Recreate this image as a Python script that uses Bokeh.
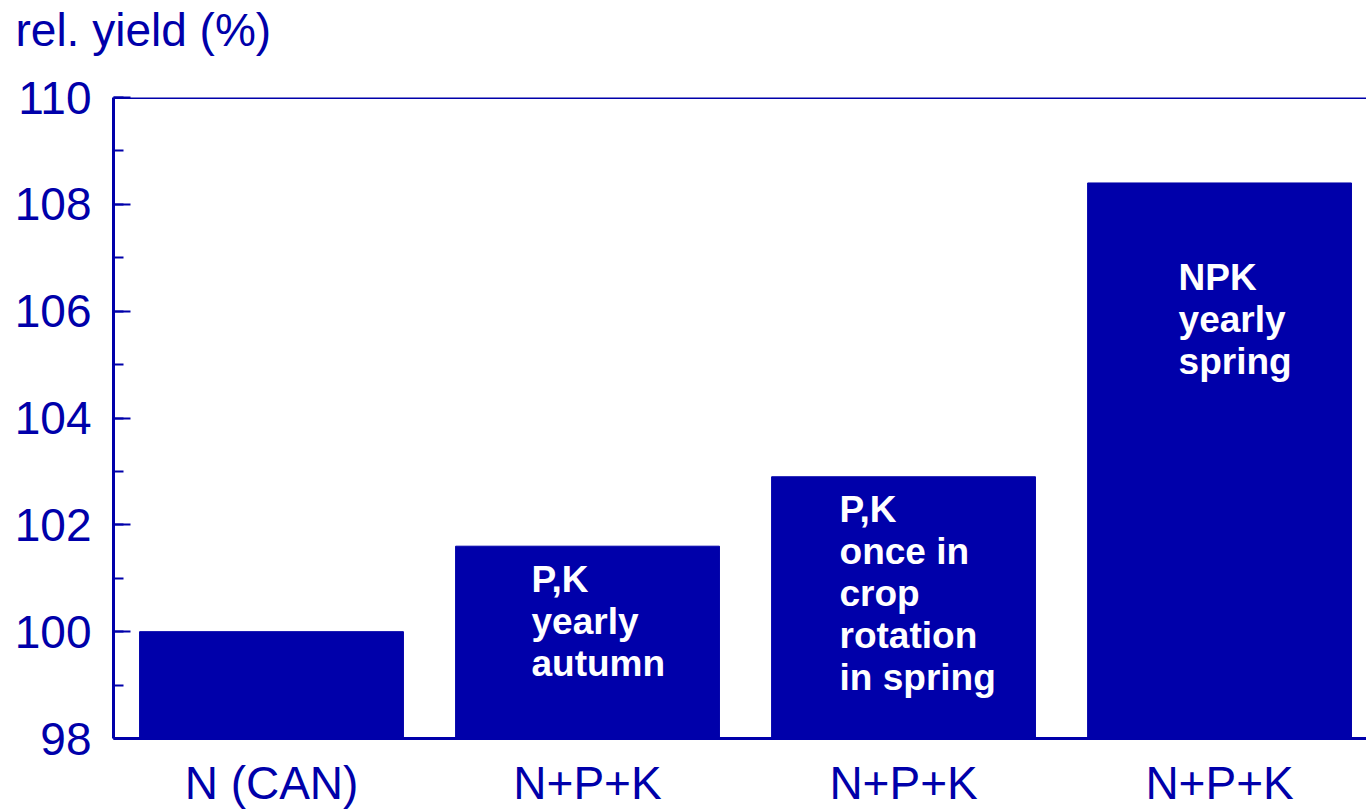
from bokeh.plotting import figure
from bokeh.models import ColumnDataSource, Range1d, FixedTicker, Span, Title
from bokeh.core.properties import value
from bokeh.embed import file_html
from bokeh.resources import INLINE

# ---- data ----
categories = ["N (CAN)", "N+P+K", "N+P+K", "N+P+K"]
rel_yield = [100.0, 101.6, 102.9, 108.4]
bar_notes = [
    [],
    ["P,K", "yearly", "autumn"],
    ["P,K", "once in", "crop", "rotation", "in spring"],
    ["NPK", "yearly", "spring"],
]
y_ticks = [98, 100, 102, 104, 106, 108, 110]
y_title = "rel. yield (%)"

BLUE = "#0000AA"
FONT = "Liberation Sans"

xs = list(range(len(categories)))

p = figure(width=1366, height=811, output_backend="svg", toolbar_location=None,
           x_range=Range1d(-0.5, 3.465), y_range=Range1d(98, 110),
           min_border_left=113, min_border_right=0, min_border_top=97, min_border_bottom=0)

p.title.text = y_title
p.title.text_font = FONT
p.title.text_font_size = "46px"
p.title.text_font_style = "normal"
p.title.text_color = BLUE
p.title.align = "left"
p.title.vertical_align = "top"
p.title.offset = -98
p.title.standoff = 0

# spacer between title and plot area
p.add_layout(Title(text=" ", text_font_size="2px", standoff=36), "above")

p.outline_line_color = None
p.grid.visible = False
p.background_fill_color = "white"
p.border_fill_color = "white"

src = ColumnDataSource(dict(x=xs, top=rel_yield))
p.vbar(x="x", top="top", bottom=98, width=0.835, source=src,
       fill_color=BLUE, line_color=BLUE, line_width=1)

# notes inside bars
note_x, note_y, note_t, note_dx = [], [], [], []
first_baseline_px = {1: 580, 2: 510, 3: 277}
x_off_px = {1: -56, 2: -64, 3: -41}
px_per_unit = (739 - 97) / 12.0
for i, lines in enumerate(bar_notes):
    for j, t in enumerate(lines):
        base = first_baseline_px[i] + 42 * j
        note_x.append(xs[i])
        note_y.append(98 + (739 - base) / px_per_unit)
        note_t.append(t)
        note_dx.append(x_off_px[i])
nsrc = ColumnDataSource(dict(x=note_x, y=note_y, t=note_t, dx=note_dx))
p.text(x="x", y="y", text="t", x_offset="dx", source=nsrc,
       text_font=value(FONT), text_font_size="37px", text_font_style="bold",
       text_color="white", text_align="left", text_baseline="alphabetic")

# top frame line
p.add_layout(Span(location=110, dimension="width", line_color=BLUE, line_width=3))

# y axis
ya = p.yaxis[0]
ya.ticker = FixedTicker(ticks=y_ticks, minor_ticks=list(range(98, 111)))
ya.axis_line_color = BLUE
ya.axis_line_width = 3
ya.major_tick_line_color = BLUE
ya.major_tick_line_width = 2
ya.major_tick_in = 17
ya.major_tick_out = 0
ya.minor_tick_line_color = BLUE
ya.minor_tick_line_width = 2
ya.minor_tick_in = 10
ya.minor_tick_out = 0
ya.major_label_text_font = FONT
ya.major_label_text_font_size = "46px"
ya.major_label_text_color = BLUE
ya.major_label_standoff = 22

# x axis
xa = p.xaxis[0]
xa.ticker = FixedTicker(ticks=xs)
xa.major_label_overrides = {i: c for i, c in enumerate(categories)}
xa.axis_line_color = BLUE
xa.axis_line_width = 3
xa.major_tick_line_color = None
xa.minor_tick_line_color = None
xa.major_tick_in = 0
xa.major_tick_out = 0
xa.major_label_text_font = FONT
xa.major_label_text_font_size = "46px"
xa.major_label_text_color = BLUE
xa.major_label_standoff = 18

open("out.html", "w").write(file_html(p, INLINE))
